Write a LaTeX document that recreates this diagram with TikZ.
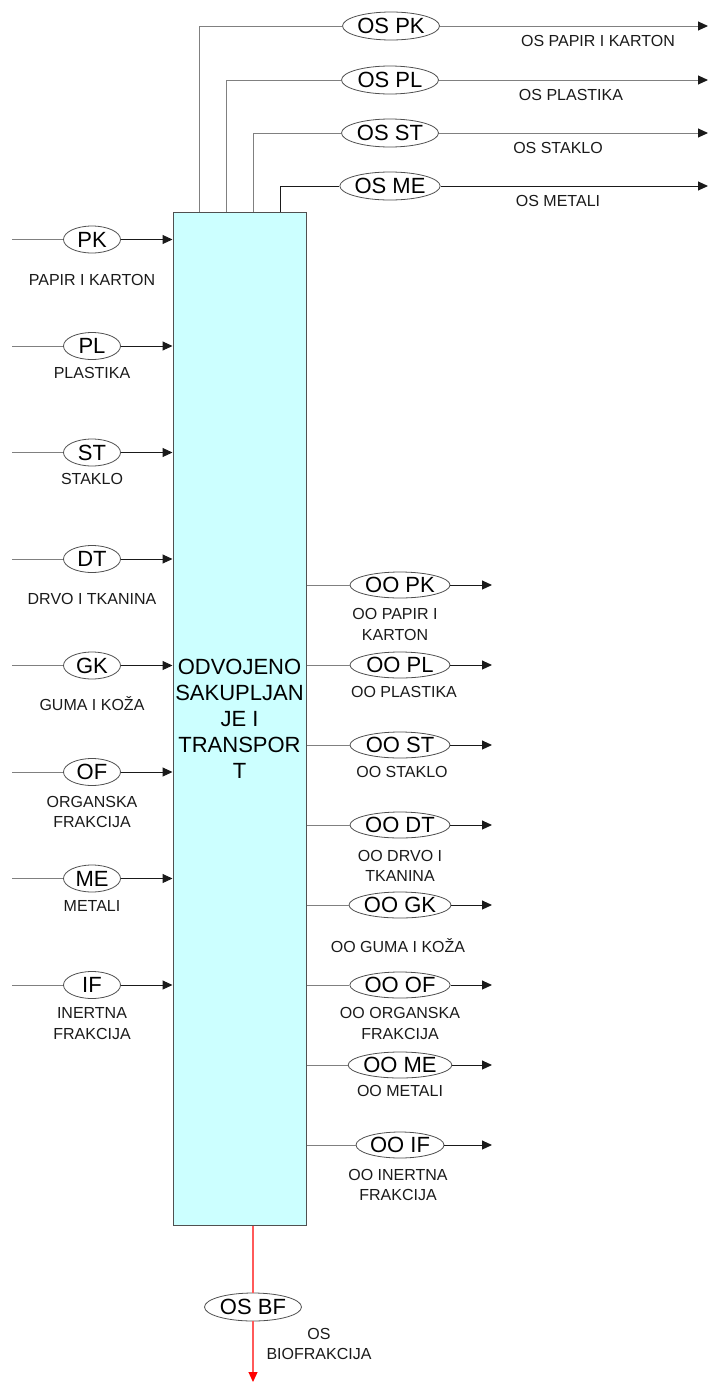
\documentclass[tikz,border=0pt]{standalone}
\usepackage{fontspec}
\setmainfont{Liberation Sans}
\usepackage{tikz}
\usetikzlibrary{arrows.meta,positioning,shapes.geometric}
\definecolor{ink}{HTML}{1A1A1A}
\definecolor{wiregray}{HTML}{808080}
\definecolor{rimgray}{HTML}{505050}
\definecolor{cyanbg}{HTML}{CCFFFF}
\definecolor{biored}{HTML}{FF5A5A}
\tikzset{
  sortbox/.style={
    draw=rimgray, fill=cyanbg, line width=1pt,
    minimum width=133pt, minimum height=1013pt, inner sep=0pt,
    align=center, font=\fontsize{22}{26}\selectfont
  },
  flowoval/.style={
    draw=rimgray, fill=white, ellipse, line width=0.8pt,
    inner sep=0pt, font=\fontsize{22}{22}\selectfont
  },
  inoval/.style={flowoval, minimum width=57pt, minimum height=27pt},
  osoval/.style={flowoval, minimum width=97pt, minimum height=28pt},
  oooval/.style={flowoval, minimum width=100pt, minimum height=26pt},
  flowlabel/.style={
    align=center, inner sep=0pt, text=ink,
    font=\fontsize{16}{20.5}\selectfont
  },
  wire/.style={draw=wiregray, line width=1pt},
  tipline/.style={draw=ink, line width=1pt, -{Triangle[length=10pt,width=9pt,color=ink]}},
  greytip/.style={draw=wiregray, line width=1pt, -{Triangle[length=10pt,width=9pt,color=ink]}},
  bioline/.style={draw=biored, line width=1.2pt}
}
\begin{document}
\begin{tikzpicture}[x=1pt,y=-1pt]
  \useasboundingbox (0,0) rectangle (708,1382);

  % main process block
  \node[sortbox] (sort) at (239.5,718.5) {ODVOJENO\\SAKUPLJAN\\JE I\\TRANSPOR\\T};

  % separately collected outputs (top)
  \coordinate (ospkfoot) at (199,212);
  \coordinate (osplfoot) at (226,212);
  \coordinate (osstfoot) at (253,212);
  \coordinate (osmefoot) at (280,212);
  \node[osoval] (ospk) at (391,26) {OS PK};
  \node[osoval] (ospl) at (390,80) {OS PL};
  \node[osoval] (osst) at (390,133) {OS ST};
  \node[osoval] (osme) at (390,186) {OS ME};
  \coordinate (ospkend) at (708,26);
  \coordinate (osplend) at (708,80);
  \coordinate (osstend) at (708,133);
  \coordinate (osmeend) at (708,186);
  \draw[wire] (ospkfoot) |- (ospk);
  \draw[wire] (osplfoot) |- (ospl);
  \draw[wire] (osstfoot) |- (osst);
  \draw[tipline,-] (osmefoot) |- (osme);
  \draw[greytip] (ospk) -- (ospkend);
  \draw[greytip] (ospl) -- (osplend);
  \draw[greytip] (osst) -- (osstend);
  \draw[tipline] (osme) -- (osmeend);
  \node[flowlabel] (ospklbl) at (598,41) {OS PAPIR I KARTON};
  \node[flowlabel] (ospllbl) at (571,95) {OS PLASTIKA};
  \node[flowlabel] (osstlbl) at (558,148) {OS STAKLO};
  \node[flowlabel] (osmelbl) at (558,201) {OS METALI};

  % incoming fractions (left)
  \coordinate (pkstart) at (12,239.5);
  \coordinate (plstart) at (12,346);
  \coordinate (ststart) at (12,452.5);
  \coordinate (dtstart) at (12,559);
  \coordinate (gkstart) at (12,665.5);
  \coordinate (ofstart) at (12,772);
  \coordinate (mestart) at (12,878.5);
  \coordinate (ifstart) at (12,985);
  \node[inoval] (pk) at (92,239.5) {PK};
  \node[inoval] (pl) at (92,346) {PL};
  \node[inoval] (st) at (92,452.5) {ST};
  \node[inoval] (dt) at (92,559) {DT};
  \node[inoval] (gk) at (92,665.5) {GK};
  \node[inoval] (of) at (92,772) {OF};
  \node[inoval] (me) at (92,878.5) {ME};
  \node[inoval] (if) at (92,985) {IF};
  \draw[wire] (pkstart) -- (pk);
  \draw[wire] (plstart) -- (pl);
  \draw[wire] (ststart) -- (st);
  \draw[wire] (dtstart) -- (dt);
  \draw[wire] (gkstart) -- (gk);
  \draw[wire] (ofstart) -- (of);
  \draw[wire] (mestart) -- (me);
  \draw[wire] (ifstart) -- (if);
  \draw[tipline] (pk) -- (pk -| sort.west);
  \draw[tipline] (pl) -- (pl -| sort.west);
  \draw[tipline] (st) -- (st -| sort.west);
  \draw[tipline] (dt) -- (dt -| sort.west);
  \draw[tipline] (gk) -- (gk -| sort.west);
  \draw[tipline] (of) -- (of -| sort.west);
  \draw[tipline] (me) -- (me -| sort.west);
  \draw[tipline] (if) -- (if -| sort.west);
  \node[flowlabel] (pklbl) at (92,280) {PAPIR I KARTON};
  \node[flowlabel] (pllbl) at (92,373) {PLASTIKA};
  \node[flowlabel] (stlbl) at (92,479) {STAKLO};
  \node[flowlabel] (dtlbl) at (92,599) {DRVO I TKANINA};
  \node[flowlabel] (gklbl) at (92,703.5) {GUMA I KOŽA};
  \node[flowlabel] (oflbl) at (92,812) {ORGANSKA\\FRAKCIJA};
  \node[flowlabel] (melbl) at (92,906) {METALI};
  \node[flowlabel] (iflbl) at (92,1023.5) {INERTNA\\FRAKCIJA};

  % other outputs (right)
  \node[oooval] (oopk) at (400,585) {OO PK};
  \node[oooval] (oopl) at (400,665) {OO PL};
  \node[oooval] (oost) at (400,745) {OO ST};
  \node[oooval] (oodt) at (400,825) {OO DT};
  \node[oooval] (oogk) at (400,905) {OO GK};
  \node[oooval] (ooof) at (400,985) {OO OF};
  \node[oooval] (oome) at (400,1065) {OO ME};
  \node[oooval,minimum width=88pt] (ooif) at (400,1145) {OO IF};
  \coordinate (oopkend) at (492,585);
  \coordinate (ooplend) at (492,665);
  \coordinate (oostend) at (492,745);
  \coordinate (oodtend) at (492,825);
  \coordinate (oogkend) at (492,905);
  \coordinate (ooofend) at (492,985);
  \coordinate (oomeend) at (492,1065);
  \coordinate (ooifend) at (492,1145);
  \draw[wire] (oopk -| sort.east) -- (oopk);
  \draw[wire] (oopl -| sort.east) -- (oopl);
  \draw[wire] (oost -| sort.east) -- (oost);
  \draw[wire] (oodt -| sort.east) -- (oodt);
  \draw[wire] (oogk -| sort.east) -- (oogk);
  \draw[wire] (ooof -| sort.east) -- (ooof);
  \draw[wire] (oome -| sort.east) -- (oome);
  \draw[wire] (ooif -| sort.east) -- (ooif);
  \draw[tipline] (oopk) -- (oopkend);
  \draw[tipline] (oopl) -- (ooplend);
  \draw[tipline] (oost) -- (oostend);
  \draw[tipline] (oodt) -- (oodtend);
  \draw[tipline] (oogk) -- (oogkend);
  \draw[tipline] (ooof) -- (ooofend);
  \draw[tipline] (oome) -- (oomeend);
  \draw[tipline] (ooif) -- (ooifend);
  \node[flowlabel] (oopklbl) at (395,624.5) {OO PAPIR I\\KARTON};
  \node[flowlabel] (oopllbl) at (404,692) {OO PLASTIKA};
  \node[flowlabel] (oostlbl) at (402,772) {OO STAKLO};
  \node[flowlabel] (oodtlbl) at (400,866) {OO DRVO I\\TKANINA};
  \node[flowlabel] (oogklbl) at (398,945.5) {OO GUMA I KOŽA};
  \node[flowlabel] (ooofl) at (400,1023.5) {OO ORGANSKA\\FRAKCIJA};
  \node[flowlabel] (oomelbl) at (400,1091) {OO METALI};
  \node[flowlabel] (ooiflbl) at (398,1185) {OO INERTNA\\FRAKCIJA};

  % biofraction (bottom)
  \node[osoval] (osbf) at (253,1307) {OS BF};
  \coordinate (osbfend) at (253,1382);
  \draw[bioline] (osbf |- sort.south) -- (osbf);
  \draw[bioline,-{Triangle[length=10pt,width=9pt,color=red]}] (osbf) -- (osbfend);
  \node[flowlabel] (osbflbl) at (319,1344) {OS\\BIOFRAKCIJA};
\end{tikzpicture}
\end{document}
